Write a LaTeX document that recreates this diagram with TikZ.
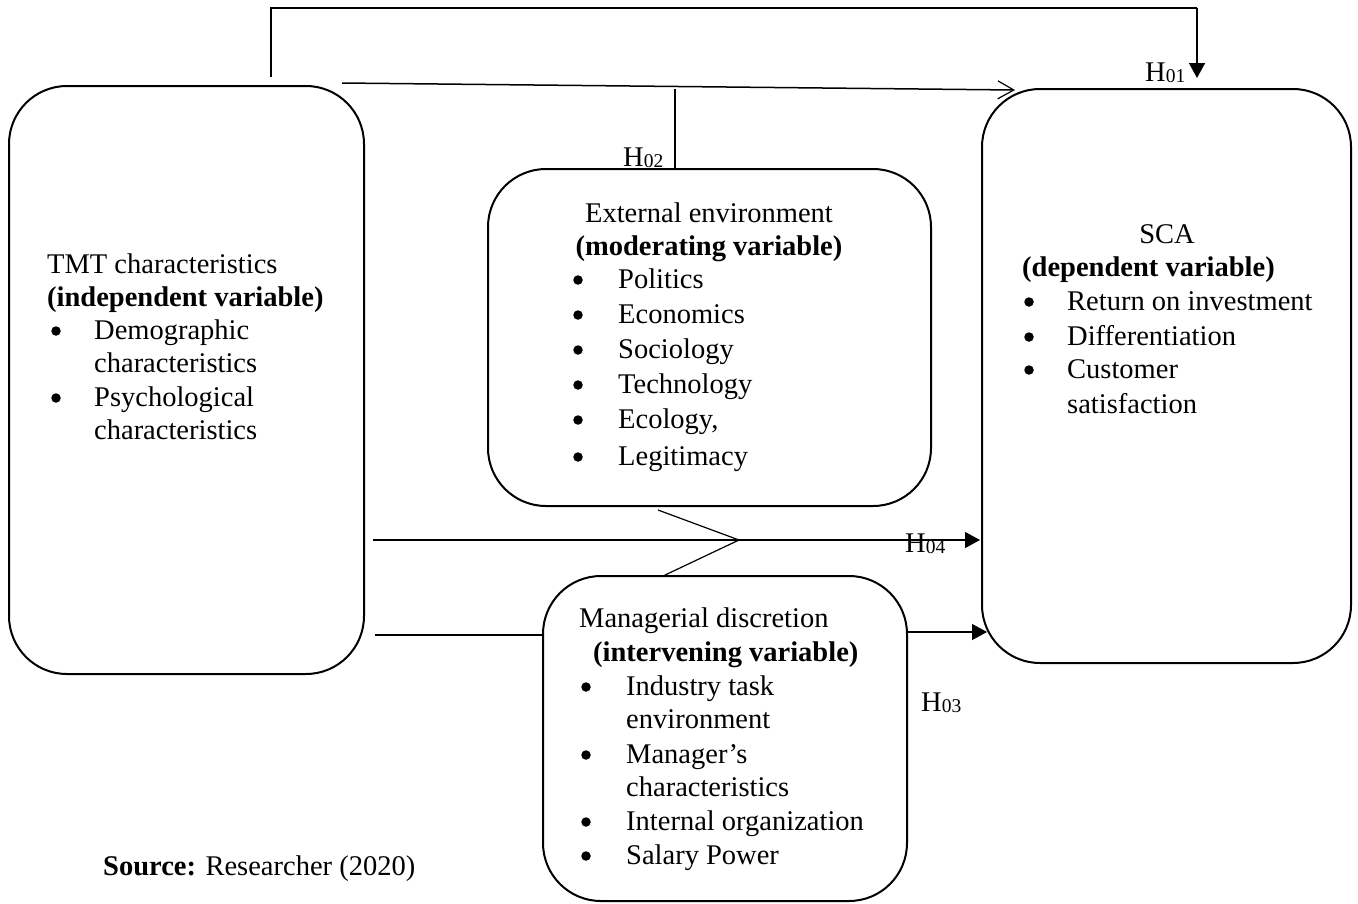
\documentclass[tikz,border=0pt]{standalone}
\usepackage{fontspec}
\setmainfont{Liberation Serif}
\usetikzlibrary{arrows.meta}
\newcommand{\hlab}[1]{H\raisebox{-1.5pt}{\fontsize{19.5}{19.5}\selectfont #1}}
\begin{document}
\begin{tikzpicture}[x=1pt,y=-1pt,
  font=\fontsize{28.5}{34}\selectfont,
  box/.style={draw, line width=2pt, rounded corners=58pt, inner sep=0pt},
  txt/.style={anchor=base west, inner sep=0pt},
  ctxt/.style={anchor=base, inner sep=0pt},
  bul/.style={circle, fill, inner sep=0pt, minimum size=9.5pt},
  conn/.style={line width=1.5pt},
  thin/.style={line width=1.2pt},
  fillarrow/.style={-{Triangle[length=15pt,width=16pt]}},
  openarrow/.style={-{Straight Barb[length=16pt,width=18pt,line width=1.2pt]}}
]
\useasboundingbox (0,0) rectangle (1358,903);

% boxes
\node[box, minimum width=355pt, minimum height=588pt] (tmt) at (186.5,380) {};
\node[box, minimum width=443pt, minimum height=337pt] (ext) at (709.5,337.5) {};
\node[box, minimum width=369pt, minimum height=574pt] (sca) at (1166.5,376) {};
\node[box, minimum width=364pt, minimum height=325pt] (man) at (725,738.5) {};

% TMT text
\node[txt] (t1) at (47,273) {TMT characteristics};
\node[txt] (t2) at (47,306) {\bfseries (independent variable)};
\node[bul] (tb1) at (56,331) {};
\node[txt] (t3) at (94,339) {Demographic};
\node[txt] (t4) at (94,372) {characteristics};
\node[bul] (tb2) at (56,398) {};
\node[txt] (t5) at (94,406) {Psychological};
\node[txt] (t6) at (94,439) {characteristics};

% External text
\node[ctxt] (e1) at (709,222) {External environment};
\node[ctxt] (e2) at (709,255) {\bfseries (moderating variable)};
\foreach \n/\yy/\w in {b1/288/Politics, b2/323/Economics, b3/358/Sociology, b4/393/Technology, b5/428/{Ecology,}, b6/465/Legitimacy}{
  \node[bul] (e\n) at (578,\yy-8) {};
  \node[txt] (et\n) at (618,\yy) {\w};
}

% SCA text
\node[ctxt] (s1) at (1167,243) {SCA};
\node[txt] (s2) at (1022,276) {\bfseries (dependent variable)};
\node[bul] (sb1) at (1029,302) {};
\node[txt] (s3) at (1067,310) {Return on investment};
\node[bul] (sb2) at (1029,337) {};
\node[txt] (s4) at (1067,345) {Differentiation};
\node[bul] (sb3) at (1029,370) {};
\node[txt] (s5) at (1067,378) {Customer};
\node[txt] (s6) at (1067,413) {satisfaction};

% Managerial text
\node[txt] (m1) at (579,627) {Managerial discretion};
\node[txt] (m2) at (593,661) {\bfseries (intervening variable)};
\node[bul] (mb1) at (586,687) {};
\node[txt] (m3) at (626,695) {Industry task};
\node[txt] (m4) at (626,728) {environment};
\node[bul] (mb2) at (586,755) {};
\node[txt] (m5) at (626,763) {Manager’s};
\node[txt] (m6) at (626,796) {characteristics};
\node[bul] (mb3) at (586,822) {};
\node[txt] (m7) at (626,830) {Internal organization};
\node[bul] (mb4) at (586,856) {};
\node[txt] (m8) at (626,864) {Salary Power};

% source
\node[txt] (src) at (103,875) {\textbf{Source:} Researcher (2020)};

% H labels
\node[txt] (h1) at (1145,81) {\hlab{01}};
\node[txt] (h2) at (623,166) {\hlab{02}};
\node[txt] (h3) at (921,711) {\hlab{03}};
\node[txt] (h4) at (905,552) {\hlab{04}};

% coordinates
\coordinate (a0) at (271,77);
\coordinate (a1) at (271,8);
\coordinate (a2) at (1197,8);
\coordinate (a3) at (1197,78);
\coordinate (b0) at (342,83);
\coordinate (b1) at (1015,90);
\coordinate (c0) at (675,89);
\coordinate (d0) at (373,540);
\coordinate (d1) at (980,540);
\coordinate (z1) at (658,510);
\coordinate (z2) at (739,540);
\coordinate (z3) at (663,576);
\coordinate (f0) at (375,635);
\coordinate (g0) at (907,632);
\coordinate (g1) at (987,632);

% connectors
\draw[conn, line width=2pt] (a0) -- (a1) -- (a2);
\draw[conn, fillarrow] (a2) -- (a3);
\draw[conn, openarrow] (b0) -- (b1);
\draw[conn] (c0) -- (c0 |- ext.north);
\draw[thin, fillarrow] (d0) -- (d1);
\draw[thin] (z1) -- (z2) -- (z3);
\draw[line width=2.2pt] (f0) -- (f0 -| man.west);
\draw[thin, fillarrow] (g0) -- (g1);
\end{tikzpicture}
\end{document}
